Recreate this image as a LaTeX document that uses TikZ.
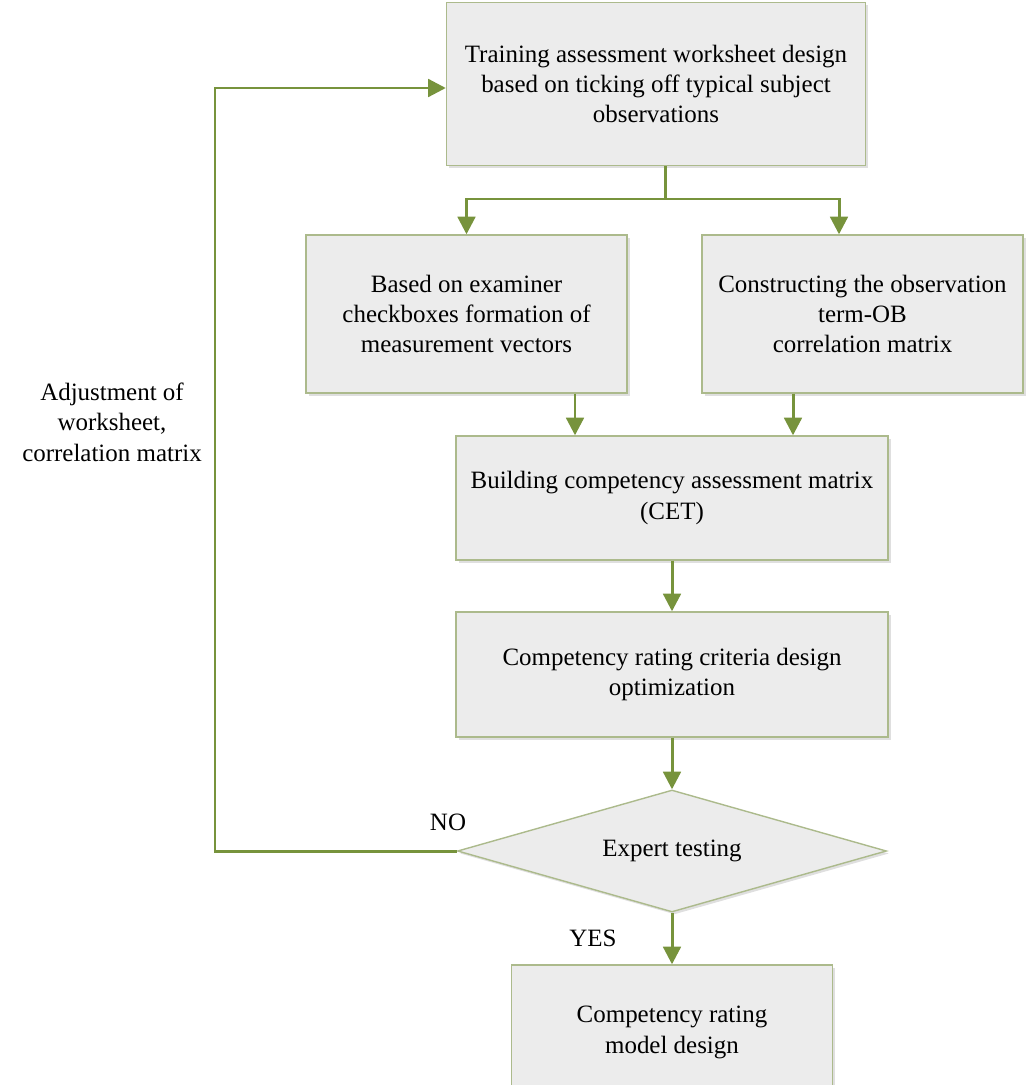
\documentclass[tikz,border=0pt]{standalone}
\usepackage{fontspec}
\setmainfont{Liberation Serif}
\usetikzlibrary{arrows.meta,shapes.geometric,shadows}
\definecolor{flowgreen}{RGB}{119,147,60}
\definecolor{boxfill}{RGB}{236,236,236}
\definecolor{boxline}{RGB}{172,186,140}

\begin{document}
\begin{tikzpicture}[color=black, >={Triangle[length=10pt,width=10pt]},
    font=\fontsize{14.2}{17.3}\selectfont,
    stepbox/.style={draw=boxline, fill=boxfill, line width=0.8pt, align=center,
      inner sep=0pt, drop shadow={opacity=0.25, shadow xshift=0.05, shadow yshift=-0.05}},
    flow/.style={draw=flowgreen, line width=1.7pt}]
  \useasboundingbox (0,0) rectangle (20.54,-21.7);
  % Boxes of the design chain
  \node[stepbox, minimum width=8.38cm, minimum height=3.26cm] (top) at (13.12,-1.68)
    {Training assessment worksheet design\\based on ticking off typical subject\\observations};
  \node[stepbox, minimum width=6.42cm, minimum height=3.16cm] (vec) at (9.33,-6.28)
    {Based on examiner\\checkboxes formation of\\measurement vectors};
  \node[stepbox, minimum width=6.42cm, minimum height=3.16cm] (corr) at (17.25,-6.28)
    {Constructing the observation\\term-OB\\correlation matrix};
  \node[stepbox, minimum width=8.64cm, minimum height=2.48cm] (cet) at (13.44,-9.96)
    {Building competency assessment matrix\\(CET)};
  \node[stepbox, minimum width=8.64cm, minimum height=2.5cm] (crit) at (13.44,-13.49)
    {Competency rating criteria design\\optimization};
  \node[stepbox, diamond, aspect=3.5, minimum width=8.58cm, minimum height=2.44cm] (test) at (13.44,-17.02)
    {Expert testing};
  \node[stepbox, minimum width=6.42cm, minimum height=2.7cm] (model) at (13.44,-20.65)
    {Competency rating\\model design};
  % Labels
  \node[align=center] (adjust) at (2.24,-8.44) {Adjustment of\\worksheet,\\correlation matrix};
  \node (no) at (8.96,-16.44) {NO};
  \node (yes) at (11.86,-18.76) {YES};
  % Connectors
  \coordinate (split) at (13.3,-3.98);
  \coordinate (rdrop) at (16.78,-3.98);
  \coordinate (lin) at (11.5,-8);
  \coordinate (rin) at (15.86,-8);
  \coordinate (loop) at (4.3,-1.76);
  \draw[flow] (split |- top.south) -- (split);
  \draw[flow, ->] (split) -| (vec.north);
  \draw[flow, ->] (split) -- (rdrop) -- (rdrop |- corr.north);
  \draw[flow, ->] (lin |- vec.south) -- (lin |- cet.north);
  \draw[flow, ->] (rin |- corr.south) -- (rin |- cet.north);
  \draw[flow, ->] (cet) -- (crit);
  \draw[flow, ->] (crit) -- (test);
  \draw[flow, ->] (test) -- (model);
  \draw[flow, ->] (test.west) -| (loop) -- (loop -| top.west);
\end{tikzpicture}
\end{document}
